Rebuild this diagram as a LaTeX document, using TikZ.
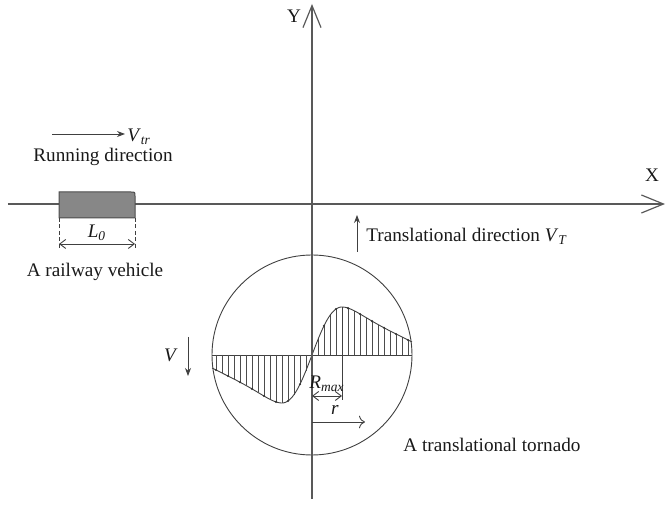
\documentclass[tikz,border=0pt]{standalone}
\usepackage{fontspec}
\setmainfont{Liberation Serif}
\usetikzlibrary{arrows.meta}
\begin{document}
\begin{tikzpicture}[x=0.5pt,y=-0.5pt,
  lbl/.style={font=\fontsize{9.6}{11}\selectfont, inner sep=0pt, text=black!90},
  axis/.style={draw=black!65, line width=0.6pt, -{Straight Barb[length=11pt,width=9pt,line width=0.6pt]}},
  thin/.style={draw=black!75, line width=0.45pt},
  hatch/.style={draw=black!70, line width=0.35pt},
  dimarr/.style={thin, {Straight Barb[length=3pt,width=4.5pt]}-{Straight Barb[length=3pt,width=4.5pt]}},
  smallarr/.style={thin, -{Stealth[length=4pt,width=3pt]}},
  declare function={vf(\r)=(\r<30)?(48*(\r/30)*exp((1-(\r/30)^2)/2)):(13+35*(1-(\r-30)/70)+35*((\r-30)/70)*(1-(\r-30)/70)^5);}
]
\useasboundingbox (0,0) rectangle (666,507);
% key points
\coordinate (O) at (312,355);
\coordinate (xs) at (8,204);
\coordinate (xe) at (665,204);
\coordinate (ys) at (312,499);
\coordinate (ye) at (312,4);
% tornado circle and velocity profile
\draw[thin] (O) circle [radius=100];
\coordinate (bl) at (212,355);
\coordinate (br) at (412,355);
\draw[thin] (bl) -- (br);
\foreach \r in {6,12,...,96} {
  \pgfmathsetmacro{\h}{vf(\r)}
  \draw[hatch] ({312+\r},355) -- ({312+\r},{355-\h});
  \draw[hatch] ({312-\r},355) -- ({312-\r},{355+\h});
}
\draw[thin] plot[domain=0:100,samples=101] ({312+\x},{355-vf(\x)});
\draw[thin] plot[domain=0:100,samples=101] ({312-\x},{355+vf(\x)});
\foreach \r in {12,24,...,96} {
  \pgfmathsetmacro{\h}{vf(\r)}
  \fill[black!80] ({312+\r},{355-\h}) circle [radius=1.2];
  \fill[black!80] ({312-\r},{355+\h}) circle [radius=1.2];
}
% axes
\draw[axis] (xs) -- (xe);
\draw[axis] (ys) -- (ye);
\node[lbl] (Xl) at (652,175) {X};
\node[lbl] (Yl) at (294,16) {Y};
% Rmax and r
\coordinate (pk) at (342,307);
\coordinate (pkb) at (342,400);
\draw[thin] (pk) -- (pkb);
\coordinate (rm1) at (312,396);
\coordinate (rm2) at (342,396);
\draw[dimarr] (rm1) -- (rm2);
\node[lbl] (rmax) at (327,384) {\textit{R}\textsubscript{\textit{max}}};
\coordinate (r1) at (312,422);
\coordinate (r2) at (365,422);
\draw[thin, -{To[length=3pt]}] (r1) -- (r2);
\node[lbl] (rl) at (335,410) {\textit{r}};
% V
\node[lbl] (Vl) at (171,355) {\textit{V}};
\coordinate (v1) at (188,337);
\coordinate (v2) at (188,376);
\draw[smallarr] (v1) -- (v2);
\node[lbl] (tor) at (492,445) {A translational tornado};
% translational direction
\coordinate (t1) at (357,252);
\coordinate (t2) at (357,215);
\draw[smallarr] (t1) -- (t2);
\node[lbl, anchor=west] (trans) at (366,236) {Translational direction \textit{V}\textsubscript{\textit{T}}};
% railway vehicle
\path[draw=black!70, fill=black!47, line width=0.5pt] (59,218) -- (59,192) -- (131,192) .. controls (135,192) .. (135,196) -- (135,218) -- cycle;
\coordinate (d1) at (59,218);
\coordinate (d2) at (135,218);
\coordinate (d1b) at (59,249);
\coordinate (d2b) at (135,249);
\draw[thin, dashed, dash pattern=on 2pt off 1.2pt] (d1) -- (d1b);
\draw[thin, dashed, dash pattern=on 2pt off 1.2pt] (d2) -- (d2b);
\coordinate (l1) at (59,244);
\coordinate (l2) at (135,244);
\draw[dimarr] (l1) -- (l2);
\node[lbl] (L0) at (97,233) {\textit{L}\textsubscript{\textit{0}}};
\node[lbl] (veh) at (95,272) {A railway vehicle};
% running direction
\coordinate (ra) at (52,134);
\coordinate (rb) at (125,134);
\draw[smallarr] (ra) -- (rb);
\node[lbl, anchor=west] (vtr) at (127,137) {\textit{V}\textsubscript{\textit{tr}}};
\node[lbl] (run) at (103,157) {Running direction};
\end{tikzpicture}
\end{document}
